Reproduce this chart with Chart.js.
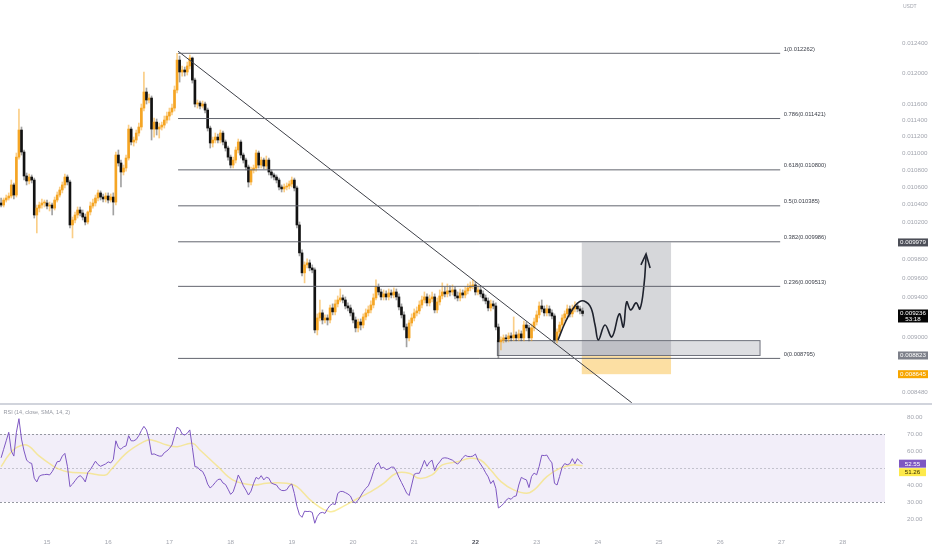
<!DOCTYPE html>
<html>
<head>
<meta charset="utf-8">
<script src="https://cdn.jsdelivr.net/npm/chart.js@4.4.1/dist/chart.umd.min.js"></script>
<style>
  html, body { margin: 0; padding: 0; background: #ffffff; }
  #wrap { position: relative; width: 932px; height: 550px; overflow: hidden; }
  #price { position: absolute; left: 0; top: 0; width: 932px; height: 403px; }
  #sep { position: absolute; left: 0; top: 403px; width: 932px; height: 2px; background: #d1d4dc; }
  #rsi { position: absolute; left: 0; top: 405px; width: 932px; height: 145px; }
</style>
</head>
<body>
<div id="wrap">
  <canvas id="price" width="932" height="403"></canvas>
  <div id="sep"></div>
  <canvas id="rsi" width="932" height="145"></canvas>
</div>
<script>
const FONT = '"Liberation Sans", Arial, sans-serif';

// 1h candles, hours counted from the 14th 00:00
const firstHour = 6;
const firstOpen = 0.010417;

const closes = [
  0.010394, 0.010451, 0.010474, 0.010497, 0.010624, 0.010508, 0.010951, 0.011279, 0.011012, 0.010728,
  0.010670, 0.010716, 0.010681, 0.010282, 0.010360, 0.010394, 0.010417, 0.010417, 0.010383, 0.010394,
  0.010360, 0.010451, 0.010508, 0.010566, 0.010624, 0.010716, 0.010658, 0.010171, 0.010226, 0.010282,
  0.010338, 0.010304, 0.010259, 0.010204, 0.010316, 0.010383, 0.010417, 0.010474, 0.010532, 0.010485,
  0.010463, 0.010497, 0.010451, 0.010485, 0.010428, 0.010976, 0.010881, 0.010775, 0.010822, 0.010940,
  0.011291, 0.011133, 0.011157, 0.011242, 0.011316, 0.011552, 0.011756, 0.011654, 0.011679, 0.011291,
  0.011377, 0.011291, 0.011316, 0.011340, 0.011402, 0.011452, 0.011502, 0.011552, 0.011781, 0.012172,
  0.012015, 0.012041, 0.012015, 0.012094, 0.012199, 0.011910, 0.011603, 0.011616, 0.011578, 0.011603,
  0.011527, 0.011303, 0.011121, 0.011157, 0.011193, 0.011157, 0.011242, 0.011133, 0.011060, 0.010951,
  0.010857, 0.010916, 0.011036, 0.011133, 0.010976, 0.010916, 0.010833, 0.010658, 0.010798, 0.010822,
  0.011000, 0.010857, 0.010916, 0.010845, 0.010916, 0.010775, 0.010740, 0.010716, 0.010681, 0.010600,
  0.010578, 0.010600, 0.010612, 0.010635, 0.010681, 0.010589, 0.010171, 0.009866, 0.009654, 0.009738,
  0.009759, 0.009706, 0.009685, 0.009072, 0.009191, 0.009242, 0.009171, 0.009191, 0.009171, 0.009292,
  0.009252, 0.009333, 0.009373, 0.009394, 0.009373, 0.009312, 0.009292, 0.009242, 0.009171, 0.009092,
  0.009151, 0.009121, 0.009201, 0.009242, 0.009272, 0.009322, 0.009394, 0.009507, 0.009455, 0.009404,
  0.009435, 0.009404, 0.009445, 0.009424, 0.009455, 0.009404, 0.009302, 0.009222, 0.009101, 0.008994,
  0.009141, 0.009191, 0.009242, 0.009262, 0.009322, 0.009373, 0.009404, 0.009343, 0.009384, 0.009404,
  0.009272, 0.009353, 0.009414, 0.009455, 0.009435, 0.009466, 0.009455, 0.009476, 0.009414, 0.009394,
  0.009445, 0.009424, 0.009466, 0.009497, 0.009518, 0.009528, 0.009455, 0.009476, 0.009435, 0.009394,
  0.009363, 0.009292, 0.009333, 0.009312, 0.009101, 0.008955, 0.008974, 0.008994, 0.008984, 0.009013,
  0.008994, 0.009023, 0.008994, 0.009033, 0.008994, 0.009121, 0.009092, 0.008994, 0.009092, 0.009151,
  0.009222, 0.009312, 0.009282, 0.009242, 0.009282, 0.009242, 0.009211, 0.008974, 0.009052, 0.009121,
  0.009191, 0.009232, 0.009282, 0.009232, 0.009282, 0.009312, 0.009282, 0.009262, 0.009236
];

const highs = [
  0.010474, 0.010474, 0.010508, 0.010532, 0.010681, 0.010647, 0.011000, 0.011540, 0.011316, 0.011036,
  0.010763, 0.010751, 0.010740, 0.010704, 0.010394, 0.010428, 0.010463, 0.010451, 0.010451, 0.010428,
  0.010417, 0.010485, 0.010543, 0.010600, 0.010658, 0.010751, 0.010740, 0.010681, 0.010259, 0.010316,
  0.010372, 0.010372, 0.010338, 0.010293, 0.010327, 0.010428, 0.010463, 0.010508, 0.010566, 0.010555,
  0.010520, 0.010532, 0.010532, 0.010520, 0.010532, 0.011012, 0.011036, 0.010916, 0.010857, 0.010976,
  0.011340, 0.011316, 0.011193, 0.011279, 0.011365, 0.011603, 0.012015, 0.011807, 0.011730, 0.011705,
  0.011427, 0.011415, 0.011365, 0.011377, 0.011452, 0.011502, 0.011552, 0.011603, 0.011833, 0.012262,
  0.012226, 0.012094, 0.012080, 0.012146, 0.012239, 0.012212, 0.011936, 0.011654, 0.011641, 0.011641,
  0.011629, 0.011552, 0.011328, 0.011193, 0.011242, 0.011230, 0.011279, 0.011267, 0.011157, 0.011084,
  0.010976, 0.010951, 0.011072, 0.011169, 0.011157, 0.011000, 0.010940, 0.010857, 0.010833, 0.010857,
  0.011036, 0.011024, 0.010951, 0.010940, 0.010964, 0.010940, 0.010798, 0.010763, 0.010740, 0.010704,
  0.010624, 0.010635, 0.010647, 0.010670, 0.010716, 0.010704, 0.010612, 0.010204, 0.009898, 0.009770,
  0.009802, 0.009791, 0.009738, 0.009706, 0.009232, 0.009373, 0.009272, 0.009222, 0.009222, 0.009322,
  0.009333, 0.009373, 0.009414, 0.009486, 0.009424, 0.009404, 0.009343, 0.009322, 0.009272, 0.009201,
  0.009181, 0.009181, 0.009232, 0.009282, 0.009312, 0.009363, 0.009435, 0.009580, 0.009538, 0.009486,
  0.009476, 0.009466, 0.009486, 0.009476, 0.009497, 0.009486, 0.009435, 0.009333, 0.009252, 0.009131,
  0.009171, 0.009232, 0.009282, 0.009302, 0.009363, 0.009414, 0.009455, 0.009435, 0.009424, 0.009455,
  0.009435, 0.009394, 0.009476, 0.009549, 0.009507, 0.009538, 0.009518, 0.009528, 0.009507, 0.009455,
  0.009486, 0.009476, 0.009507, 0.009538, 0.009559, 0.009580, 0.009559, 0.009518, 0.009518, 0.009466,
  0.009424, 0.009394, 0.009373, 0.009363, 0.009343, 0.009131, 0.009003, 0.009023, 0.009023, 0.009043,
  0.009043, 0.009201, 0.009052, 0.009072, 0.009062, 0.009161, 0.009151, 0.009121, 0.009131, 0.009191,
  0.009262, 0.009353, 0.009373, 0.009312, 0.009322, 0.009312, 0.009272, 0.009232, 0.009082, 0.009151,
  0.009222, 0.009262, 0.009322, 0.009312, 0.009322, 0.009353, 0.009343, 0.009312, 0.009292
];

const lows = [
  0.010372, 0.010372, 0.010428, 0.010451, 0.010474, 0.010463, 0.010485, 0.010928, 0.010976, 0.010681,
  0.010624, 0.010635, 0.010647, 0.010248, 0.010083, 0.010316, 0.010360, 0.010372, 0.010349, 0.010327,
  0.010282, 0.010338, 0.010428, 0.010485, 0.010532, 0.010589, 0.010624, 0.010138, 0.010028, 0.010193,
  0.010248, 0.010271, 0.010226, 0.010171, 0.010182, 0.010282, 0.010360, 0.010383, 0.010440, 0.010451,
  0.010428, 0.010428, 0.010417, 0.010428, 0.010282, 0.010394, 0.010845, 0.010600, 0.010740, 0.010786,
  0.010916, 0.011097, 0.011084, 0.011121, 0.011206, 0.011279, 0.011515, 0.011603, 0.011616, 0.011157,
  0.011193, 0.011218, 0.011181, 0.011279, 0.011303, 0.011365, 0.011402, 0.011465, 0.011515, 0.011743,
  0.011884, 0.011962, 0.011962, 0.011975, 0.012054, 0.011871, 0.011565, 0.011552, 0.011540, 0.011552,
  0.011490, 0.011267, 0.011060, 0.011072, 0.011121, 0.011121, 0.011121, 0.011097, 0.011024, 0.010916,
  0.010822, 0.010822, 0.010881, 0.011000, 0.010940, 0.010881, 0.010798, 0.010600, 0.010624, 0.010763,
  0.010786, 0.010822, 0.010822, 0.010810, 0.010810, 0.010740, 0.010704, 0.010681, 0.010647, 0.010566,
  0.010543, 0.010543, 0.010566, 0.010578, 0.010600, 0.010555, 0.010138, 0.009834, 0.009622, 0.009549,
  0.009706, 0.009675, 0.009654, 0.009043, 0.009023, 0.009161, 0.009131, 0.009141, 0.009121, 0.009141,
  0.009222, 0.009222, 0.009302, 0.009353, 0.009343, 0.009282, 0.009262, 0.009211, 0.009141, 0.009052,
  0.009052, 0.009072, 0.009092, 0.009171, 0.009211, 0.009242, 0.009292, 0.009373, 0.009424, 0.009373,
  0.009373, 0.009373, 0.009373, 0.009394, 0.009394, 0.009373, 0.009272, 0.009191, 0.009072, 0.008906,
  0.008965, 0.009111, 0.009161, 0.009211, 0.009232, 0.009292, 0.009343, 0.009312, 0.009312, 0.009353,
  0.009242, 0.009242, 0.009322, 0.009384, 0.009404, 0.009404, 0.009414, 0.009424, 0.009384, 0.009363,
  0.009363, 0.009394, 0.009394, 0.009435, 0.009466, 0.009486, 0.009424, 0.009424, 0.009404, 0.009363,
  0.009333, 0.009262, 0.009262, 0.009282, 0.009072, 0.008795, 0.008877, 0.008945, 0.008955, 0.008955,
  0.008965, 0.008965, 0.008965, 0.008965, 0.008965, 0.008965, 0.009062, 0.008965, 0.008965, 0.009062,
  0.009121, 0.009191, 0.009252, 0.009211, 0.009211, 0.009211, 0.009181, 0.008945, 0.008945, 0.009023,
  0.009092, 0.009161, 0.009201, 0.009201, 0.009201, 0.009252, 0.009252, 0.009232, 0.009211
];

// RSI(14) per candle, and its SMA(14) read at a few candles
const rsiValues = [
  56, 61, 66, 71, 60, 57, 71, 79, 67, 60,
  54.7, 53.2, 52.7, 44, 41.8, 45.2, 45.9, 46.1, 46.3, 45.9,
  47.8, 50.5, 53.7, 53.9, 57, 58.6, 51, 39, 40.5, 42.5,
  44.5, 45.5, 44.2, 41.8, 47.3, 49, 51.5, 54, 52, 51,
  51.7, 52.4, 53.6, 53, 55, 66, 62, 61, 62.5, 63,
  69, 66, 66, 66.8, 69, 72, 74.5, 72.4, 67, 58,
  58.3, 57.6, 57, 57, 59, 60, 61.5, 63.5, 69, 74,
  73, 70, 69.4, 70.4, 72.4, 62, 50.8, 50.5, 48.8, 48,
  45, 40.5, 38.2, 39.7, 41.5, 43.2, 43.5, 41.2, 40.3, 37.5,
  34.5, 36, 40.5, 45.9, 43, 39.5, 37, 34.1, 36.4, 41,
  44.5, 43.5, 45.5, 43, 44.6, 44, 41.1, 40.5, 40, 37.8,
  36.8, 36.7, 37.2, 39.5, 40.6, 35, 27.5, 22.5, 21, 24.6,
  24.4, 24.5, 23.9, 17.5, 21.5, 23.5, 23.9, 23.3, 26, 28,
  29, 28.5, 35, 36.2, 36.2, 35.5, 34.7, 33.5, 30.2, 29.5,
  31, 33.5, 36, 38, 39.5, 43, 47.8, 51.8, 53.2, 49.8,
  50.5, 49, 49.5, 50.5, 50.5, 48, 44.5, 41.5, 38.5, 35.3,
  33.8, 40, 46.3, 46.9, 46.9, 50.5, 54.5, 51, 53.5, 54.6,
  48.5, 51.8, 53.6, 55.7, 56, 55.8, 55.2, 54.6, 53.3, 52.3,
  53.8, 56, 57.4, 56.8, 56.7, 57, 58.2, 54.6, 52.3, 50,
  47.2, 44.8, 40.8, 42.7, 38, 26.5, 27.5, 29, 31, 32.2,
  31.6, 33.2, 33.6, 40, 44.5, 43.6, 43, 38.5, 45, 47,
  46, 51, 57.5, 57.3, 57.6, 55, 53, 41, 40, 45,
  50.5, 52.6, 51.9, 52.5, 55.5, 52.5, 55.5, 53.8, 52.55
];
const smaHours = [6, 9, 12, 16, 21, 26, 28, 32, 40, 47, 49, 55, 62, 65, 71, 75, 81, 84, 91, 97, 105, 110, 118, 122,
  128, 135, 140, 146, 151, 156, 161, 166, 170, 175, 179, 185, 190, 194, 198, 202, 207, 212, 215, 220, 225, 230, 234];
const smaValues = [50.8, 57.6, 62, 63.5, 57, 51.5, 49.8, 47.8, 46.9, 45.9, 48.8, 58.6, 65.5, 66.5, 63.5, 62.5, 64.5, 60.6,
  50.8, 42.9, 40, 41, 41, 39, 30.2, 24.3, 27.3, 32.2, 36.1, 41, 46.9, 46.9, 43.9, 45.9, 51.8, 53.7, 55.7, 54.7,
  48.8, 42, 37.1, 35.1, 37.1, 44.9, 49.8, 51.8, 51.26];

// axes
const dayHours = [24, 48, 72, 96, 120, 144, 168, 192, 216, 240, 264, 288, 312, 336];
const dayLabels = ['15', '16', '17', '18', '19', '20', '21', '22', '23', '24', '25', '26', '27', '28'];
const priceTicks = [0.0124, 0.012, 0.0116, 0.0114, 0.0112, 0.011, 0.0108, 0.0106, 0.0104, 0.0102,
  0.0098, 0.0096, 0.0094, 0.009, 0.00848];
const rsiTicks = [80, 70, 60, 40, 30, 20];

// drawings
const fibRatios = ['1', '0.786', '0.618', '0.5', '0.382', '0.236', '0'];
const fibPrices = [0.012262, 0.011421, 0.010800, 0.010385, 0.009986, 0.009513, 0.008795];
const fibHours = [75.4, 311.5];
const trendHours = [75.4, 253.3];
const trendPrices = [0.012290, 0.008380];
const pathHours = [224.4, 227.1, 229.9, 233.4, 236.9, 238.9, 240.2, 242.8, 245.5, 248.4, 250.0, 251.3, 252.9,
  255.0, 256.5, 258.1, 258.9];
const pathPrices = [0.008974, 0.009141, 0.009272, 0.009363, 0.009312, 0.009121, 0.008974, 0.009121, 0.009003,
  0.009232, 0.009101, 0.009353, 0.009272, 0.009343, 0.009282, 0.009528, 0.009827];
const arrowHours = [256.9, 258.9, 260.5];
const arrowPrices = [0.009738, 0.009855, 0.009706];
const zoneHours = [200.6, 303.6];
const zonePrices = [0.008823, 0.008967];
const positionHours = [233.7, 268.7];
const entryPrice = 0.008823;
const targetPrice = 0.009979;
const stopPrice = 0.008645;
const lastPrice = 0.009236;
const countdown = '53:18';
const rsiLast = 52.55;
const smaLast = 51.26;

const viewFrom = 5.57;
const viewTo = 352.6;
const axisW = 47;
const upColor = '#f5a524';
const downColor = '#121212';

Chart.defaults.font.family = FONT;
Chart.defaults.font.size = 6.2;
Chart.defaults.color = '#a3a6af';

const hours = closes.map((c, i) => firstHour + i);
const opens = closes.map((c, i) => (i === 0 ? firstOpen : closes[i - 1]));
const bodyColors = closes.map((c, i) => (c >= opens[i] ? upColor : downColor));
const wickColors = closes.map((c, i) => (c >= opens[i] ? 'rgba(245,165,36,0.55)' : 'rgba(70,70,70,0.5)'));

function flatLine(p, color) {
  return {
    type: 'line', data: [{ x: fibHours[0], y: p }, { x: fibHours[1], y: p }],
    borderColor: color, borderWidth: 1, pointRadius: 0, order: 0
  };
}

function tag(ctx, x, y, text, bg, fg) {
  ctx.fillStyle = bg;
  ctx.fillRect(x, y - 4, 30, 8);
  ctx.fillStyle = fg;
  ctx.textAlign = 'center';
  ctx.textBaseline = 'middle';
  ctx.fillText(text, x + 15, y + 0.3);
}

const priceDraw = {
  id: 'priceDraw',
  beforeDatasetsDraw(chart) {
    const { ctx, scales: { x, y } } = chart;
    const x0 = x.getPixelForValue(positionHours[0]);
    const x1 = x.getPixelForValue(positionHours[1]);
    const yT = y.getPixelForValue(targetPrice);
    const yE = y.getPixelForValue(entryPrice);
    const yS = y.getPixelForValue(stopPrice);
    ctx.save();
    ctx.fillStyle = 'rgba(120,123,134,0.3)';
    ctx.fillRect(x0, yT, x1 - x0, yE - yT);
    ctx.fillStyle = 'rgba(247,166,0,0.36)';
    ctx.fillRect(x0, yE, x1 - x0, yS - yE);
    const zx0 = x.getPixelForValue(zoneHours[0]);
    const zx1 = x.getPixelForValue(zoneHours[1]);
    const zy0 = y.getPixelForValue(zonePrices[1]);
    const zy1 = y.getPixelForValue(zonePrices[0]);
    ctx.fillStyle = 'rgba(120,123,134,0.25)';
    ctx.fillRect(zx0, zy0, zx1 - zx0, zy1 - zy0);
    ctx.strokeStyle = '#6f727c';
    ctx.lineWidth = 1;
    ctx.strokeRect(zx0, zy0, zx1 - zx0, zy1 - zy0);
    ctx.restore();
  },
  afterDatasetsDraw(chart) {
    const { ctx, scales: { x, y } } = chart;
    ctx.save();
    ctx.font = '5.8px ' + FONT;
    ctx.fillStyle = '#3d404a';
    ctx.textAlign = 'left';
    ctx.textBaseline = 'bottom';
    const lx = x.getPixelForValue(fibHours[1]) + 3.5;
    fibPrices.forEach((p, i) => {
      ctx.fillText(fibRatios[i] + '(' + p.toFixed(6) + ')', lx, y.getPixelForValue(p) - 1.2);
    });
    ctx.restore();
  },
  afterDraw(chart) {
    const { ctx, chartArea, scales: { y } } = chart;
    const bx = chartArea.right + 13;
    ctx.save();
    ctx.font = '6.2px ' + FONT;
    tag(ctx, bx, y.getPixelForValue(targetPrice), targetPrice.toFixed(6), '#4c4e57', '#ffffff');
    tag(ctx, bx, y.getPixelForValue(entryPrice), entryPrice.toFixed(6), '#7d808a', '#ffffff');
    tag(ctx, bx, y.getPixelForValue(stopPrice), stopPrice.toFixed(6), '#f7a600', '#ffffff');
    const ly = y.getPixelForValue(lastPrice);
    ctx.fillStyle = '#050505';
    ctx.fillRect(bx, ly - 4, 30, 13);
    ctx.fillStyle = '#ffffff';
    ctx.textAlign = 'center';
    ctx.textBaseline = 'middle';
    ctx.fillText(lastPrice.toFixed(6), bx + 15, ly);
    ctx.fillText(countdown, bx + 15, ly + 5.6);
    ctx.font = '5px ' + FONT;
    ctx.fillStyle = '#a3a6af';
    ctx.textAlign = 'left';
    ctx.fillText('USDT', chartArea.right + 18, 7);
    ctx.restore();
  }
};

const priceChart = new Chart(document.getElementById('price'), {
  type: 'bar',
  data: {
    datasets: [
      ...fibPrices.map(p => flatLine(p, '#62656e')),
      {
        type: 'line', data: trendHours.map((h, i) => ({ x: h, y: trendPrices[i] })),
        borderColor: '#3e4048', borderWidth: 1, pointRadius: 0, order: 0
      },
      {
        type: 'line', data: pathHours.map((h, i) => ({ x: h, y: pathPrices[i] })),
        borderColor: '#1e222d', borderWidth: 1.6, pointRadius: 0, tension: 0.4, order: 0
      },
      {
        type: 'line', data: arrowHours.map((h, i) => ({ x: h, y: arrowPrices[i] })),
        borderColor: '#1e222d', borderWidth: 1.6, pointRadius: 0, tension: 0, order: 0
      },
      {
        data: hours.map((h, i) => ({ x: h, y: [opens[i], closes[i]] })),
        backgroundColor: bodyColors, barThickness: 2, minBarLength: 1, grouped: false, order: 1
      },
      {
        data: hours.map((h, i) => ({ x: h, y: [lows[i], highs[i]] })),
        backgroundColor: wickColors, barThickness: 1, grouped: false, order: 2
      }
    ]
  },
  options: {
    responsive: false,
    animation: false,
    events: [],
    layout: { padding: 0 },
    plugins: { legend: { display: false }, tooltip: { enabled: false } },
    scales: {
      x: { type: 'linear', min: viewFrom, max: viewTo, bounds: 'data', offset: false, display: false },
      y: {
        type: 'logarithmic', position: 'right', min: 0.008378, max: 0.012995, bounds: 'data',
        grid: { display: false, drawTicks: false }, border: { display: false },
        afterBuildTicks: s => { s.ticks = priceTicks.map(v => ({ value: v })); },
        afterFit: s => { s.width = axisW; s.paddingTop = 0; s.paddingBottom = 0; },
        ticks: { autoSkip: false, padding: 17, crossAlign: 'near', callback: v => Number(v).toFixed(6) }
      }
    }
  },
  plugins: [priceDraw]
});

const rsiDraw = {
  id: 'rsiDraw',
  beforeDatasetsDraw(chart) {
    const { ctx, chartArea: a, scales: { y } } = chart;
    const y70 = y.getPixelForValue(70);
    const y50 = y.getPixelForValue(50);
    const y30 = y.getPixelForValue(30);
    ctx.save();
    ctx.fillStyle = 'rgba(126,87,194,0.1)';
    ctx.fillRect(a.left, y70, a.right - a.left, y30 - y70);
    ctx.setLineDash([2, 2]);
    ctx.lineWidth = 1;
    [[y70, '#9598a1'], [y50, 'rgba(149,152,161,0.5)'], [y30, '#9598a1']].forEach(([ly, c]) => {
      ctx.strokeStyle = c;
      ctx.beginPath();
      ctx.moveTo(a.left, Math.round(ly) + 0.5);
      ctx.lineTo(a.right, Math.round(ly) + 0.5);
      ctx.stroke();
    });
    ctx.restore();
  },
  afterDraw(chart) {
    const { ctx, chartArea: a, scales: { y } } = chart;
    const bx = a.right + 14;
    const ry = y.getPixelForValue(rsiLast);
    ctx.save();
    ctx.font = '6.2px ' + FONT;
    ctx.fillStyle = '#7e57c2';
    ctx.fillRect(bx, ry - 4, 27, 8);
    ctx.fillStyle = '#fde94a';
    ctx.fillRect(bx, ry + 4.5, 27, 8);
    ctx.textAlign = 'center';
    ctx.textBaseline = 'middle';
    ctx.fillStyle = '#ffffff';
    ctx.fillText(rsiLast.toFixed(2), bx + 13.5, ry + 0.3);
    ctx.fillStyle = '#3a3000';
    ctx.fillText(smaLast.toFixed(2), bx + 13.5, ry + 8.8);
    ctx.font = '5.5px ' + FONT;
    ctx.fillStyle = '#9598a1';
    ctx.textAlign = 'left';
    ctx.fillText('RSI (14, close, SMA, 14, 2)', 3.5, 7);
    ctx.restore();
  }
};

const rsiChart = new Chart(document.getElementById('rsi'), {
  type: 'line',
  data: {
    datasets: [
      {
        data: hours.map((h, i) => ({ x: h, y: rsiValues[i] })),
        borderColor: '#7e57c2', borderWidth: 1, pointRadius: 0, tension: 0
      },
      {
        data: smaHours.map((h, i) => ({ x: h, y: smaValues[i] })),
        borderColor: 'rgba(245,222,80,0.55)', borderWidth: 1.5, pointRadius: 0, tension: 0.4
      }
    ]
  },
  options: {
    responsive: false,
    animation: false,
    events: [],
    layout: { padding: 0 },
    plugins: { legend: { display: false }, tooltip: { enabled: false } },
    scales: {
      x: {
        type: 'linear', min: viewFrom, max: viewTo, bounds: 'data', offset: false,
        grid: { display: false, drawTicks: false }, border: { display: false },
        afterBuildTicks: s => { s.ticks = dayHours.map(v => ({ value: v })); },
        afterFit: s => { s.height = 25; s.paddingLeft = 0; s.paddingRight = 0; },
        ticks: {
          autoSkip: false, maxRotation: 0, padding: 14,
          callback: (v, i) => dayLabels[i],
          color: c => (c.tick && c.tick.value === 192 ? '#4c4f5a' : '#a3a6af'),
          font: c => (c.tick && c.tick.value === 192 ? { size: 6.2, weight: 'bold' } : { size: 6.2 })
        }
      },
      y: {
        position: 'right', min: 16.47, max: 87.06, bounds: 'data',
        grid: { display: false, drawTicks: false }, border: { display: false },
        afterBuildTicks: s => { s.ticks = rsiTicks.map(v => ({ value: v })); },
        afterFit: s => { s.width = axisW; s.paddingTop = 0; s.paddingBottom = 0; },
        ticks: { autoSkip: false, padding: 22, crossAlign: 'near', callback: v => Number(v).toFixed(2) }
      }
    }
  },
  plugins: [rsiDraw]
});
</script>
</body>
</html>
